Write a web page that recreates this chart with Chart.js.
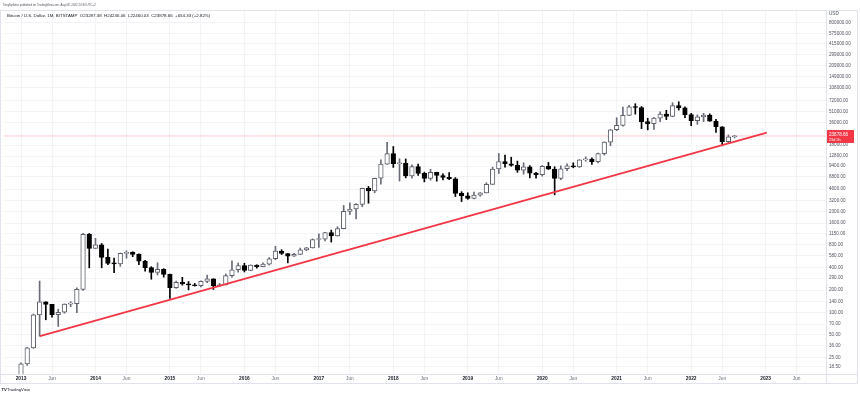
<!DOCTYPE html>
<html><head><meta charset="utf-8">
<script src="https://cdn.jsdelivr.net/npm/chart.js@4"></script>
<style>html,body{margin:0;padding:0;background:#fff;}canvas{display:block;}</style>
</head><body>
<canvas id="c" width="860" height="396"></canvas>
<script>
// ---- data (monthly BTCUSD, Bitstamp) ----
const months = [
 '2013-01','2013-02','2013-03','2013-04','2013-05','2013-06','2013-07','2013-08','2013-09','2013-10','2013-11','2013-12',
 '2014-01','2014-02','2014-03','2014-04','2014-05','2014-06','2014-07','2014-08','2014-09','2014-10','2014-11','2014-12',
 '2015-01','2015-02','2015-03','2015-04','2015-05','2015-06','2015-07','2015-08','2015-09','2015-10','2015-11','2015-12',
 '2016-01','2016-02','2016-03','2016-04','2016-05','2016-06','2016-07','2016-08','2016-09','2016-10','2016-11','2016-12',
 '2017-01','2017-02','2017-03','2017-04','2017-05','2017-06','2017-07','2017-08','2017-09','2017-10','2017-11','2017-12',
 '2018-01','2018-02','2018-03','2018-04','2018-05','2018-06','2018-07','2018-08','2018-09','2018-10','2018-11','2018-12',
 '2019-01','2019-02','2019-03','2019-04','2019-05','2019-06','2019-07','2019-08','2019-09','2019-10','2019-11','2019-12',
 '2020-01','2020-02','2020-03','2020-04','2020-05','2020-06','2020-07','2020-08','2020-09','2020-10','2020-11','2020-12',
 '2021-01','2021-02','2021-03','2021-04','2021-05','2021-06','2021-07','2021-08','2021-09','2021-10','2021-11','2021-12',
 '2022-01','2022-02','2022-03','2022-04','2022-05','2022-06','2022-07','2022-08'];
const opens = [
 13.3,20.4,33.4,93,139,128.7,94,101,130,132,205,1130,
 732,815,555,460,452,628,645,608,494,402,348,382,
 327,216,255,244,236,230,263,284,230,236,314,377,
 430,369,437,416,448,531,673,624,575,609,700,742,
 964,970,1190,1080,1350,2300,2480,2860,4700,4340,6440,9950,
 13850,10100,10300,6920,9240,7490,6390,7730,7000,6620,6300,4020,
 3740,3440,3810,4100,5320,8570,10810,10080,9600,8290,9150,7540,
 7190,9350,8540,6420,8630,9450,9140,11350,11650,10780,13800,19700,
 28950,33100,45170,58800,57700,37300,35040,41460,47100,43820,61300,57000,
 46200,38500,43200,45500,37700,31800,19930,23287.38];
const highs = [
 21,34,95.7,266,140,129,111,131,140,215,1163,1163,
 1000,850,718,543,633,680,660,620,505,415,469,390,
 330,265,298,262,247,268,320,285,247,332,499,465,
 462,440,440,467,550,780,703,626,628,740,755,980,
 1153,1200,1290,1430,2770,3000,2930,4740,4990,6470,11400,19666,
 17200,11800,11700,9760,9960,7780,8500,7760,7400,7680,6570,4240,
 4100,4200,4130,5600,9080,13880,13200,12340,10950,10400,9520,7750,
 9580,10500,9190,9470,10080,10380,11440,12470,12080,14100,19880,29300,
 41950,58350,61780,64900,59500,41300,42400,50500,52900,67000,69000,59100,
 48000,45800,48200,47400,40000,31900,24670,24246.06];
const lows = [
 13,19.5,33,48,80,87,65,98,120,100,199,400,
 725,400,440,344,420,540,565,440,360,281,320,300,
 155,212,234,202,227,221,252,205,226,235,300,350,
 352,366,396,415,436,515,605,467,570,606,680,740,
 752,920,890,1070,1340,2080,1830,2660,2970,4110,5370,9900,
 9000,5900,6500,6430,7000,5750,6070,5880,6100,6180,3650,3130,
 3350,3380,3690,4080,5310,7460,9070,9340,7730,7300,6510,6430,
 6860,8470,3850,6150,8120,8900,8990,10930,9880,10380,13200,17600,
 28130,32300,45000,47000,30000,28800,29300,37300,39600,43300,53300,42000,
 32900,34300,37200,37600,26700,17600,18800,22460.03];
const closes = [
 20.4,33.4,93,139,128.7,94,101,130,132,205,1130,732,
 815,555,460,452,628,645,608,494,402,348,382,327,
 216,255,244,236,230,263,284,230,236,314,377,430,
 369,437,416,448,531,673,624,575,609,700,742,964,
 970,1190,1080,1350,2300,2480,2860,4700,4340,6440,9950,13850,
 10100,10300,6920,9240,7490,6390,7730,7000,6620,6300,4020,3740,
 3440,3810,4100,5320,8570,10810,10080,9600,8290,9150,7540,7190,
 9350,8540,6420,8630,9450,9140,11350,11650,10780,13800,19700,28950,
 33100,45170,58800,57700,37300,35040,41460,47100,43820,61300,57000,46200,
 38500,43200,45500,37700,31800,19930,23224.33,23878.66];

const yTickValues = [18.5,25,36,50,70,100,140,200,290,400,580,830,1150,1600,2300,3200,4600,6800,9400,12800,18000,36000,51000,72000,108000,149000,209000,299000,415000,575000,800000];
const xTickMonths = [0,5,12,17,24,29,36,41,48,53,60,65,72,77,84,89,96,101,108,113,120,125];
const xTickLabels = ['2013','Jun','2014','Jun','2015','Jun','2016','Jun','2017','Jun','2018','Jun','2019','Jun','2020','Jun','2021','Jun','2022','Jun','2023','Jun'];
const trendMonths = [3.06, 120.2];
const trendValues = [48.3, 26400];
const lastPrice = 23878.66;
const countdown = '23d 5h';
const headerLine1 = 'TonySpilotro published on TradingView.com, Aug 08, 2022 20:30 UTC+2';
const headerLine2 = 'Bitcoin / U.S. Dollar, 1M, BITSTAMP  O23287.38  H24246.06  L22460.03  C23878.66  +654.33 (+2.82%)';

// ---- build ----
const FAM = '"Liberation Sans", Arial, sans-serif';
Chart.defaults.font.family = FAM;
const up = opens.map((o,i)=>closes[i] >= o);
const wickData = months.map((m,i)=>({x:i, y:[lows[i], highs[i]]}));
const bodyData = months.map((m,i)=>({x:i, y:[opens[i], closes[i]]}));
const xMin = -2.74, xMax = 129.73;

const overlay = {
  id:'overlay',
  afterDraw(chart){
    const ctx = chart.ctx, a = chart.chartArea, ys = chart.scales.y;
    ctx.save();
    // frame
    ctx.strokeStyle = '#e0e3eb'; ctx.lineWidth = 1;
    ctx.beginPath();
    ctx.moveTo(0, 10.5); ctx.lineTo(857.5, 10.5);
    ctx.moveTo(857.5, 10.5); ctx.lineTo(857.5, 383.5);
    ctx.moveTo(0.5, 10.5); ctx.lineTo(0.5, 383.5);
    ctx.moveTo(0, 383.5); ctx.lineTo(857.5, 383.5);
    ctx.moveTo(0, a.bottom + 0.5); ctx.lineTo(857.5, a.bottom + 0.5);
    ctx.moveTo(a.right + 0.5, 10.5); ctx.lineTo(a.right + 0.5, 383.5);
    ctx.stroke();
    // header
    ctx.textBaseline = 'middle'; ctx.textAlign = 'left';
    ctx.fillStyle = '#50535e';
    ctx.font = '2.9px ' + FAM;
    ctx.fillText(headerLine1, 3, 5.5);
    ctx.fillStyle = '#131722';
    ctx.font = '4.4px ' + FAM;
    ctx.fillText(headerLine2, 7, 15.5);
    // USD
    ctx.fillStyle = '#50535e';
    ctx.font = '4.6px ' + FAM;
    ctx.fillText('USD', 829, 14);
    // price label
    const py = ys.getPixelForValue(lastPrice);
    ctx.fillStyle = '#f23645';
    ctx.fillRect(a.right + 1, py - 6, 27, 13);
    ctx.fillStyle = '#ffffff';
    ctx.font = '4.6px ' + FAM;
    ctx.fillText(lastPrice.toFixed(2), 829, py - 1.5);
    ctx.font = '3.8px ' + FAM;
    ctx.fillText(countdown, 829, py + 3.5);
    // logo
    ctx.fillStyle = '#131722';
    ctx.font = 'bold 4.2px ' + FAM;
    ctx.fillText('TV', 1.5, 389.5);
    ctx.font = '4.2px ' + FAM;
    ctx.fillText('TradingView', 7, 389.5);
    ctx.restore();
  }
};

new Chart(document.getElementById('c'), {
  data: {
    datasets: [
      { type:'line', data: trendMonths.map((m,i)=>({x:m, y:trendValues[i]})), borderColor:'#f23645', borderWidth:1.8, pointRadius:0, order:-2 },
      { type:'line', data: [{x:xMin, y:lastPrice},{x:xMax, y:lastPrice}], borderColor:'rgba(242,54,69,0.25)', borderWidth:1, pointRadius:0, order:5 },
      { type:'bar', data: wickData, backgroundColor: up.map(u=>u?'#6a6d78':'#000000'), barThickness:1, grouped:false, order:2 },
      { type:'bar', data: bodyData, backgroundColor: up.map(u=>u?'#ffffff':'#000000'), borderColor: up.map(u=>u?'#5d606b':'#000000'), borderWidth:1, borderSkipped:false, barThickness:4.6, minBarLength:1, grouped:false, order:1 }
    ]
  },
  options: {
    responsive:false, animation:false,
    layout:{ padding:{ left:4, top:10, right:0, bottom:13 } },
    plugins:{ legend:{display:false}, tooltip:{enabled:false} },
    scales:{
      x:{
        type:'linear', min:xMin, max:xMax, offset:false,
        afterBuildTicks: s => { s.ticks = xTickMonths.map(v=>({value:v})); },
        afterFit: s => { s.height = 9; },
        grid:{ color:'#f3f4f8', drawTicks:false, offset:false },
        border:{ display:false },
        ticks:{
          padding:1.5, maxRotation:0, autoSkip:false,
          callback: (v) => { const k = xTickMonths.indexOf(v); return k>=0 ? xTickLabels[k] : ''; },
          font: c => ({ size:4.8, family:FAM, weight: (c.tick && c.tick.value % 12 === 0) ? 'bold' : 'normal' }),
          color: c => (c.tick && c.tick.value % 12 === 0) ? '#131722' : '#6a6d78'
        }
      },
      y:{
        type:'logarithmic', position:'right', min:14.89, max:1186000,
        afterBuildTicks: s => { s.ticks = yTickValues.map(v=>({value:v})); },
        afterFit: s => { s.width = 34; },
        grid:{ color:'#f3f4f8', drawTicks:false },
        border:{ display:false },
        ticks:{
          padding:3, autoSkip:false,
          callback: v => Number(v).toFixed(2),
          font:{ size:4.6, family:FAM }, color:'#50535e'
        }
      }
    }
  },
  plugins:[overlay]
});
</script>
</body></html>
